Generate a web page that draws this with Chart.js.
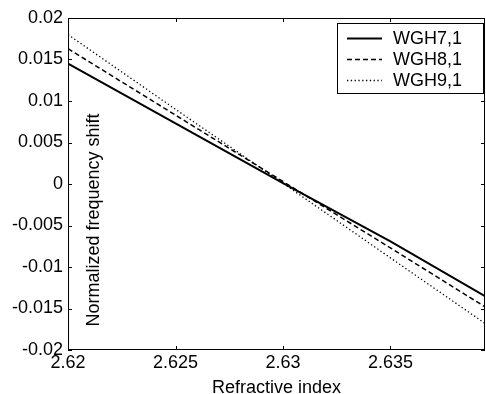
<!DOCTYPE html>
<html>
<head>
<meta charset="utf-8">
<script src="https://cdn.jsdelivr.net/npm/chart.js@4.4.0/dist/chart.umd.min.js"></script>
<style>
  html, body { margin: 0; padding: 0; background: #fff; }
  #wrap { width: 486px; height: 394px; }
</style>
</head>
<body>
<div id="wrap"><canvas id="freqChart" width="486" height="394"></canvas></div>
<script>
// Data
const refIndex = [2.62, 2.625, 2.63, 2.635, 2.6394];
const wgh71 = [0.0145, 0.0073, 0.0001, -0.0069, -0.0135];
const wgh81 = [0.0163, 0.0083, 0.0003, -0.0077, -0.0148];
const wgh91 = [0.0180, 0.0090, 0.0001, -0.0089, -0.0168];
const seriesNames = ['WGH7,1', 'WGH8,1', 'WGH9,1'];

const xTicks = [2.62, 2.625, 2.63, 2.635];
const xTickLabels = ['2.62', '2.625', '2.63', '2.635'];
const yTicks = [-0.02, -0.015, -0.01, -0.005, 0, 0.005, 0.01, 0.015, 0.02];
const yTickLabels = ['-0.02', '-0.015', '-0.01', '-0.005', '0', '0.005', '0.01', '0.015', '0.02'];

const FONT = 'Liberation Sans, Arial, sans-serif';

function toPoints(ys) {
  return refIndex.map((x, i) => ({ x: x, y: ys[i] }));
}

// MATLAB-like box with inward ticks, inner y label and boxed legend
const boxPlugin = {
  id: 'boxPlugin',
  afterDraw(chart) {
    const ctx = chart.ctx;
    const a = chart.chartArea;
    const xs = chart.scales.x;
    const ys = chart.scales.y;
    ctx.save();
    ctx.strokeStyle = '#000';
    ctx.lineWidth = 1;
    ctx.strokeRect(a.left + 0.5, a.top + 0.5, a.right - a.left - 1, a.bottom - a.top - 1);
    ctx.beginPath();
    xTicks.forEach(v => {
      const px = Math.round(xs.getPixelForValue(v)) + 0.5;
      ctx.moveTo(px, a.bottom); ctx.lineTo(px, a.bottom - 4);
      ctx.moveTo(px, a.top); ctx.lineTo(px, a.top + 4);
    });
    yTicks.forEach(v => {
      const py = Math.round(ys.getPixelForValue(v)) + 0.5;
      ctx.moveTo(a.left, py); ctx.lineTo(a.left + 4, py);
      ctx.moveTo(a.right, py); ctx.lineTo(a.right - 4, py);
    });
    ctx.stroke();

    // y axis title, drawn inside the plot area
    ctx.fillStyle = '#000';
    ctx.font = '18px ' + FONT;
    ctx.translate(a.left + 26, a.bottom - 130);
    ctx.rotate(-Math.PI / 2);
    ctx.textAlign = 'center';
    ctx.textBaseline = 'middle';
    ctx.fillText('Normalized frequency shift', 0, 0);
    ctx.restore();

    // legend box
    ctx.save();
    const lx = a.right - 148, ly = a.top + 5, lw = 146, lh = 70;
    ctx.fillStyle = '#fff';
    ctx.fillRect(lx, ly, lw, lh);
    ctx.strokeStyle = '#000';
    ctx.lineWidth = 1;
    ctx.strokeRect(lx + 0.5, ly + 0.5, lw, lh);
    ctx.font = '18px ' + FONT;
    ctx.textBaseline = 'middle';
    chart.data.datasets.forEach((ds, i) => {
      const cy = ly + 15 + i * 21;
      ctx.beginPath();
      ctx.setLineDash(ds.borderDash || []);
      ctx.lineWidth = ds.borderWidth;
      ctx.moveTo(lx + 10, cy + 0.5);
      ctx.lineTo(lx + 45, cy + 0.5);
      ctx.stroke();
      ctx.setLineDash([]);
      ctx.fillStyle = '#000';
      ctx.fillText(ds.label, lx + 56, cy + 1);
    });
    ctx.restore();
  }
};

new Chart(document.getElementById('freqChart'), {
  type: 'line',
  data: {
    datasets: [
      { label: seriesNames[0], data: toPoints(wgh71), borderColor: '#000', borderWidth: 2, borderDash: [], pointRadius: 0, fill: false },
      { label: seriesNames[1], data: toPoints(wgh81), borderColor: '#000', borderWidth: 1.5, borderDash: [5, 3], pointRadius: 0, fill: false },
      { label: seriesNames[2], data: toPoints(wgh91), borderColor: '#000', borderWidth: 1.3, borderDash: [1.3, 2.5], pointRadius: 0, fill: false }
    ]
  },
  options: {
    responsive: false,
    animation: false,
    layout: { padding: { left: 7, right: 1, top: 18, bottom: 0 } },
    plugins: {
      legend: { display: false },
      tooltip: { enabled: false }
    },
    scales: {
      x: {
        type: 'linear',
        min: 2.62,
        max: 2.6394,
        afterBuildTicks: scale => { scale.ticks = xTicks.map(v => ({ value: v })); },
        grid: { display: false, drawTicks: false },
        border: { display: false },
        ticks: {
          padding: 4,
          color: '#000',
          font: { family: FONT, size: 18, lineHeight: 1 },
          maxRotation: 0,
          callback: (v) => xTickLabels[xTicks.indexOf(v)]
        },
        title: {
          display: true,
          text: 'Refractive index',
          color: '#000',
          font: { family: FONT, size: 18, lineHeight: 1 },
          padding: { top: 3, bottom: -3 }
        }
      },
      y: {
        type: 'linear',
        min: -0.02,
        max: 0.02,
        afterBuildTicks: scale => { scale.ticks = yTicks.map(v => ({ value: v })); },
        grid: { display: false, drawTicks: false },
        border: { display: false },
        ticks: {
          padding: 5,
          color: '#000',
          font: { family: FONT, size: 18, lineHeight: 1 },
          callback: (v) => yTickLabels[yTicks.indexOf(v)]
        }
      }
    }
  },
  plugins: [boxPlugin]
});
</script>
</body>
</html>
